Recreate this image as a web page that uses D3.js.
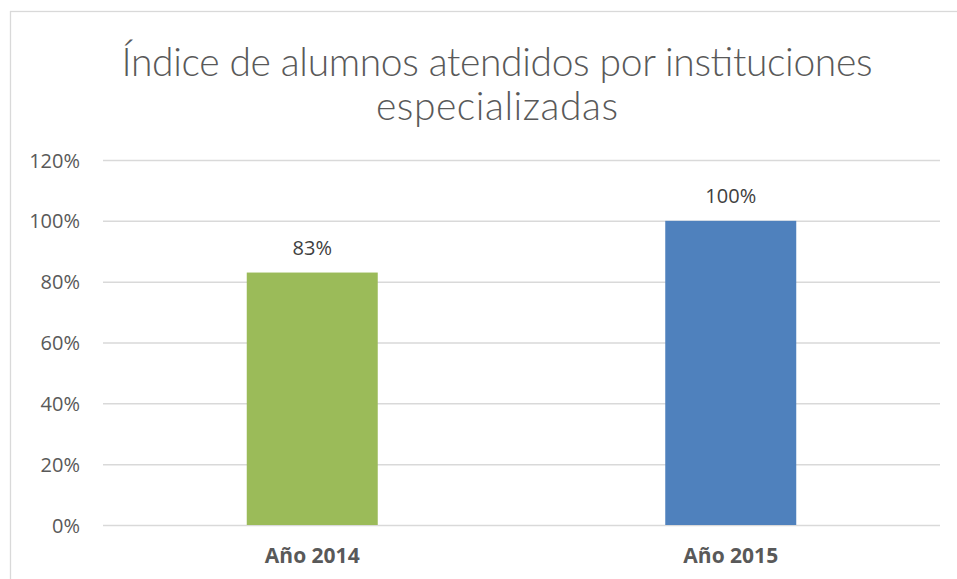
<!DOCTYPE html>
<html><head><meta charset="utf-8">
<script src="https://cdn.jsdelivr.net/npm/d3@7"></script>
<style>body{margin:0;background:#fff;}svg{display:block;}</style>
</head><body>
<script>
const categories = ["Año 2014", "Año 2015"];
const values = [0.83, 1.00];
const colors = ["#9BBB59", "#4F81BD"];
const yTicks = [0, 0.2, 0.4, 0.6, 0.8, 1.0, 1.2];
const titleLines = ["Índice de alumnos atendidos por instituciones", "especializadas"];

(function(){
const W = 957, H = 579;
const svg = d3.select("body").append("svg").attr("width", W).attr("height", H);

svg.append("rect").attr("x", 10.5).attr("y", 11.5).attr("width", 960).attr("height", 600)
  .attr("fill", "#fff").attr("stroke", "#d9d9d9").attr("stroke-width", 1.3);

const pLeft = 103, pRight = 940, pTop = 160, pBottom = 525;
const y = d3.scaleLinear().domain([0, 1.2]).range([pBottom, pTop]);
const x = d3.scaleBand().domain(categories).range([pLeft, pRight]).paddingInner(0.687).paddingOuter(0.3435);

const yAxis = d3.axisLeft(y).tickValues(yTicks).tickSize(-(pRight - pLeft)).tickPadding(23)
  .tickFormat(d3.format(".0%"));
const gy = svg.append("g").attr("transform", `translate(${pLeft},0)`).call(yAxis);
gy.select(".domain").remove();
gy.selectAll(".tick line").attr("stroke", "#d9d9d9").attr("stroke-width", 1.5);
gy.selectAll(".tick text").attr("fill", "#595959").style("font-family", "'Open Sans', sans-serif")
  .style("font-size", "20px").attr("dy", "0.35em");

svg.selectAll("rect.bar").data(values).enter().append("rect").attr("class", "bar")
  .attr("x", (d, i) => x(categories[i]))
  .attr("width", x.bandwidth())
  .attr("y", d => y(d))
  .attr("height", d => y(0) - y(d))
  .attr("fill", (d, i) => colors[i]);

svg.selectAll("text.val").data(values).enter().append("text").attr("class", "val")
  .attr("x", (d, i) => x(categories[i]) + x.bandwidth() / 2)
  .attr("y", d => y(d) - 18)
  .attr("text-anchor", "middle").attr("fill", "#404040")
  .style("font-family", "'Open Sans', sans-serif").style("font-size", "20px")
  .text(d => d3.format(".0%")(d));

const gx = svg.append("g").attr("transform", `translate(0,${pBottom})`)
  .call(d3.axisBottom(x).tickSize(0).tickPadding(0));
gx.select(".domain").remove();
gx.selectAll(".tick text").attr("fill", "#595959").attr("dy", 0).attr("y", 38)
  .style("font-family", "'Open Sans', sans-serif").style("font-size", "21px").style("font-weight", "bold");

const tLens = [751, 242];
svg.selectAll("text.title").data(titleLines).enter().append("text").attr("class", "title")
  .attr("x", 497).attr("y", (d, i) => 76 + i * 44)
  .attr("text-anchor", "middle").attr("fill", "#595959")
  .attr("textLength", (d, i) => tLens[i]).attr("lengthAdjust", "spacing")
  .style("font-family", "Lato, sans-serif").style("font-weight", 300).style("font-size", "39px")
  .text(d => d);
})();
</script>
</body></html>
